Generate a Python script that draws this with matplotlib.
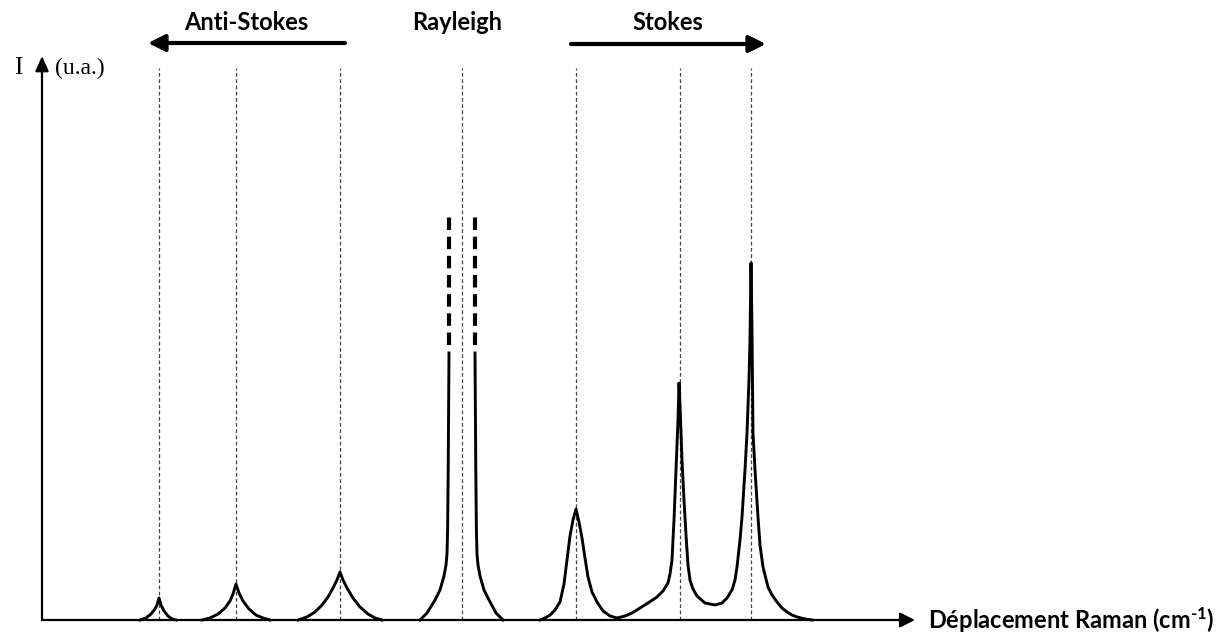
import matplotlib
matplotlib.use("Agg")
import matplotlib.pyplot as plt

# Raman spectrum schematic
# x = Raman shift (arbitrary units), y = intensity (u.a.)
band_positions = [117, 194, 298, 420, 534, 638, 709]
band_top = 552

# anti-Stokes bands
as1_x = [98, 104, 109, 113, 115, 117, 119, 122, 126, 130, 134]
as1_y = [0, 2, 6, 11, 15, 22, 15, 9, 4, 1, 0]
as2_x = [160, 168, 176, 183, 188, 191, 194, 197, 201, 207, 214, 221, 228]
as2_y = [0, 2, 6, 12, 19, 26, 36, 27, 19, 11, 5, 2, 0]
as3_x = [256, 265, 273, 280, 286, 291, 295, 298, 301, 305, 311, 318, 326, 333, 340]
as3_y = [0, 3, 8, 15, 23, 32, 40, 48, 40, 32, 22, 13, 6, 2, 0]

# Rayleigh line, off scale (two flanks + dashed continuation)
ray_left_x = [378, 385, 393, 398, 400, 402, 404, 405, 405.6, 406.2, 407]
ray_left_y = [0, 7, 20, 30, 37, 44, 55, 66, 90, 150, 267]
ray_right_x = [433, 433.8, 434.4, 435, 436, 438, 440, 442, 447, 454, 461]
ray_right_y = [267, 150, 90, 66, 55, 44, 37, 30, 20, 7, 0]
ray_break = [275, 405]

# Stokes bands
stokes_x = [498, 503, 508, 513, 518, 522, 525, 528, 531, 534, 537, 540, 543, 546,
            550, 555, 561, 568, 575, 583, 590, 598, 606, 615, 621, 626, 628, 630,
            632, 634, 636, 637, 638, 640, 642, 644, 646, 648, 651, 655, 663, 673,
            680, 685, 690, 693, 695, 698, 700, 703, 705, 707, 708, 709, 710, 711,
            713, 716, 718, 721, 726, 730, 735, 740, 745, 750, 755, 763, 770]
stokes_y = [0, 2, 5, 10, 18, 36, 60, 84, 100, 111, 98, 82, 62, 43,
            28, 18, 9, 4, 2, 4, 7, 12, 17, 23, 29, 37, 46, 60,
            100, 150, 200, 237, 215, 160, 120, 85, 55, 40, 31, 24, 17, 15,
            17, 22, 30, 40, 53, 80, 103, 150, 187, 240, 280, 357, 290, 187,
            150, 103, 75, 53, 33, 25, 18, 12, 8, 5, 3, 1, 0]

x_axis_end = 873
y_axis_end = 564

plt.rcParams['mathtext.fontset'] = 'custom'
plt.rcParams['mathtext.rm'] = 'Lato:bold'
plt.rcParams['mathtext.bf'] = 'Lato:bold'
plt.rcParams['mathtext.it'] = 'Lato:bold'

fig = plt.figure(figsize=(12.28, 6.35), dpi=100)
ax = fig.add_axes([0, 0, 1, 1])
ax.set_xlim(-42, 1186)
ax.set_ylim(-15, 620)
ax.axis('off')

# dashed band markers
for xb in band_positions:
    ax.plot([xb, xb], [0, band_top], color='#444444', lw=0.9, linestyle=(0, (3, 2)))

# spectrum
for xs, ys in [(as1_x, as1_y), (as2_x, as2_y), (as3_x, as3_y),
               (ray_left_x, ray_left_y), (ray_right_x, ray_right_y),
               (stokes_x, stokes_y)]:
    ax.plot(xs, ys, color='black', lw=2.1, solid_joinstyle='round')

# off-scale part of the Rayleigh line
for xr in [ray_left_x[-1], ray_right_x[0]]:
    ax.plot([xr, xr], ray_break, color='black', lw=3, linestyle=(0, (3, 1.6)))

# axes arrows
ax.annotate('', xy=(x_axis_end, 0), xytext=(0, 0),
            arrowprops=dict(arrowstyle='-|>,head_length=0.9,head_width=0.45',
                            lw=1.6, color='black', shrinkA=0, shrinkB=0,
                            mutation_scale=10))
ax.annotate('', xy=(0, y_axis_end), xytext=(0, 0),
            arrowprops=dict(arrowstyle='-|>,head_length=0.9,head_width=0.4',
                            lw=1.6, color='black', shrinkA=0, shrinkB=0,
                            mutation_scale=10))

ax.text(-24, 552, 'I', family='Liberation Serif', fontsize=18, ha='center', va='center')
ax.text(13, 552, '(u.a.)', family='Liberation Serif', fontsize=17, ha='left', va='center')
ax.text(886, 0, r'Déplacement Raman (cm$^{\text{-1}}$)', family='Lato',
        fontweight='bold', fontsize=17, ha='left', va='center')

# region labels and arrows
ax.text(204, 598, 'Anti-Stokes', family='Lato', fontweight='bold', fontsize=17,
        ha='center', va='center')
ax.text(415, 598, 'Rayleigh', family='Lato', fontweight='bold', fontsize=17,
        ha='center', va='center')
ax.text(626, 598, 'Stokes', family='Lato', fontweight='bold', fontsize=17,
        ha='center', va='center')
ax.annotate('', xy=(106, 577), xytext=(303, 577),
            arrowprops=dict(arrowstyle='-|>,head_length=1.0,head_width=0.5',
                            lw=3, color='black', shrinkA=0, shrinkB=0,
                            mutation_scale=10))
ax.annotate('', xy=(724, 576), xytext=(529, 576),
            arrowprops=dict(arrowstyle='-|>,head_length=1.0,head_width=0.5',
                            lw=3, color='black', shrinkA=0, shrinkB=0,
                            mutation_scale=10))

fig.savefig('out.png', dpi=100)
